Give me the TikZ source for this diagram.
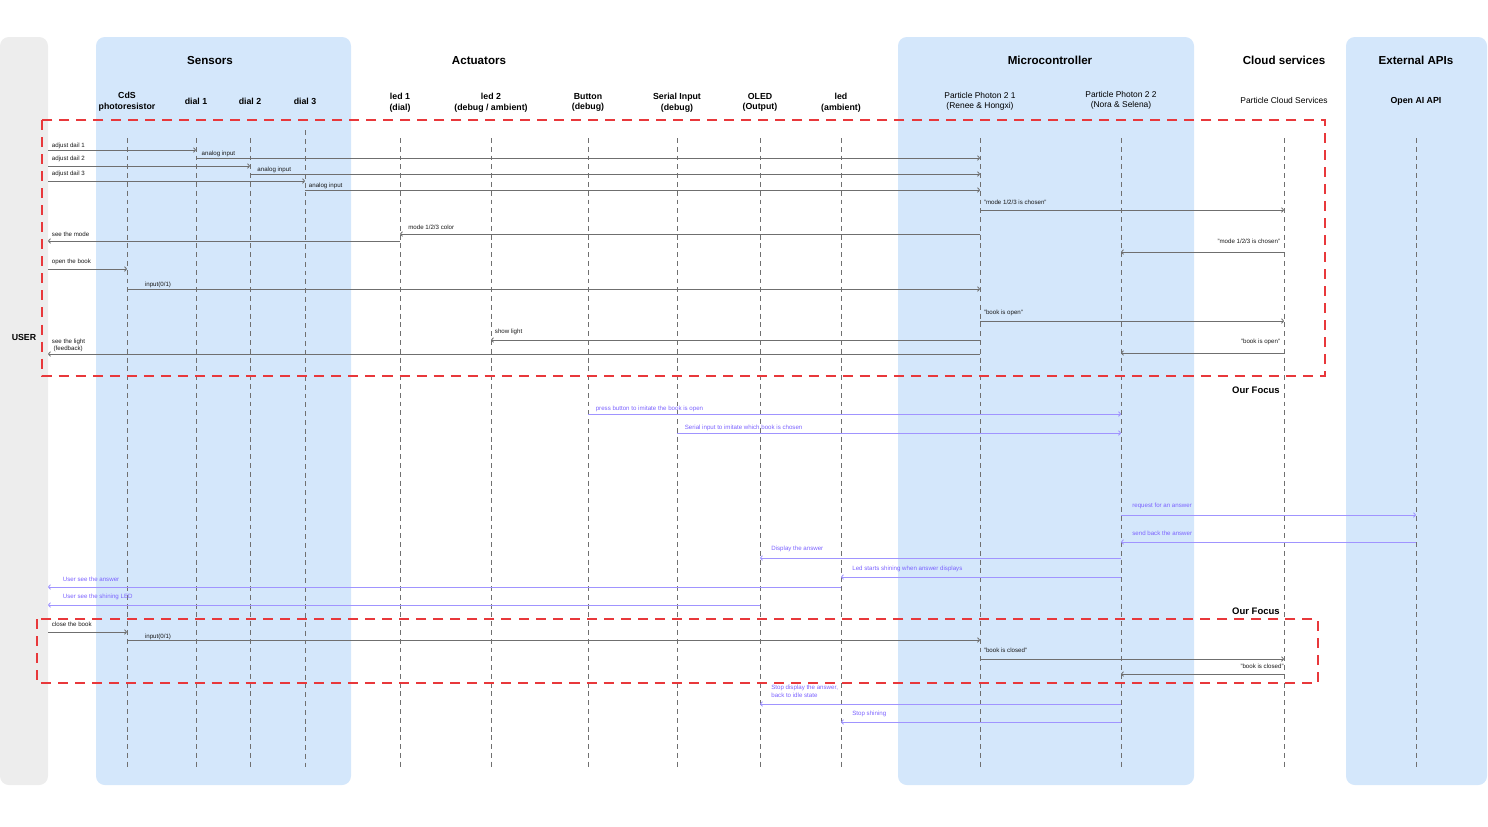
\documentclass[tikz,border=0pt]{standalone}
\usepackage{fontspec}
\setmainfont{Liberation Sans}
\usetikzlibrary{arrows.meta}
\definecolor{panelblue}{HTML}{D4E7FB}
\definecolor{panelgray}{HTML}{EDEDED}
\definecolor{focusred}{HTML}{E8383B}
\definecolor{lifegray}{HTML}{707070}
\definecolor{msggray}{HTML}{6F6F6F}
\definecolor{msgpurple}{HTML}{A094FF}
\definecolor{txtpurple}{HTML}{7B62FF}
\tikzset{
  head/.style={font=\fontsize{6.6}{7.5}\selectfont\bfseries},
  col/.style={font=\fontsize{5}{6}\selectfont\bfseries, align=center},
  colm/.style={font=\fontsize{4.8}{6}\selectfont, align=center},
  life/.style={draw=lifegray, line width=0.45pt, dash pattern=on 2.8pt off 2.2pt},
  focus/.style={draw=focusred, line width=1.4pt, dash pattern=on 5.7pt off 4pt},
  msg/.style={draw=msggray, line width=0.5pt, -{To[length=1.6pt,width=3pt]}},
  msgp/.style={msg, draw=msgpurple},
  lbl/.style={anchor=south west, font=\fontsize{3.5}{4.2}\selectfont, align=left, inner sep=0pt, xshift=2pt, yshift=0.5pt, text=black!90},
  lblr/.style={lbl, anchor=south east, xshift=-4pt},
  lblp/.style={lbl, xshift=4.2pt, text=txtpurple}
}
\begin{document}
\begin{tikzpicture}[x=0.02cm, y=-0.02cm]
\useasboundingbox (0,0) rectangle (1488,826);
% panels
\fill[panelgray, rounded corners=5pt] (0,37) rectangle (48,785);
\fill[panelblue, rounded corners=5pt] (96,37) rectangle (351,785);
\fill[panelblue, rounded corners=5pt] (898,37) rectangle (1194,785);
\fill[panelblue, rounded corners=5pt] (1346,37) rectangle (1487,785);
% group titles
\node[head] (userH) at (24,337) {\fontsize{5}{6}\selectfont USER};
\node[head] (sensH) at (210,60.5) {Sensors};
\node[head] (actH) at (479,60.5) {Actuators};
\node[head] (mcuH) at (1050,60.5) {Microcontroller};
\node[head] (cloudH) at (1284,60.5) {Cloud services};
\node[head] (apiH) at (1416,60.5) {External APIs};
% participants
\node[col] (cdsL) at (127,101.5) {CdS\\photoresistor};
\node[col] (dialAL) at (196,101.5) {dial 1};
\node[col] (dialBL) at (250,101.5) {dial 2};
\node[col] (dialCL) at (305,101.5) {dial 3};
\node[col] (ledAL) at (400,102.5) {led 1\\(dial)};
\node[col] (ledBL) at (491,102.5) {led 2\\(debug / ambient)};
\node[col] (btnL) at (588,102.5) {Button\\(debug)};
\node[col] (serialL) at (677,102.5) {Serial Input\\(debug)};
\node[col] (oledL) at (760,102.5) {OLED\\(Output)};
\node[col] (ledCL) at (841,102.5) {led\\(ambient)};
\node[colm] (ppAL) at (980,101.5) {Particle Photon 2 1\\(Renee \& Hongxi)};
\node[colm] (ppBL) at (1121,100.5) {Particle Photon 2 2\\(Nora \& Selena)};
\node[colm] (cloudL) at (1284,100.5) {Particle Cloud Services};
\node[col] (openaiL) at (1416,101.5) {Open AI API};
% lifelines
\coordinate (user) at (48,138);
\coordinate (cds) at (127,138);
\coordinate (dialA) at (196,138);
\coordinate (dialB) at (250,138);
\coordinate (dialC) at (305,130);
\coordinate (ledA) at (400,138);
\coordinate (ledB) at (491,138);
\coordinate (btn) at (588,138);
\coordinate (serial) at (677,138);
\coordinate (oled) at (760,138);
\coordinate (ledC) at (841,138);
\coordinate (ppA) at (980,138);
\coordinate (ppB) at (1121,138);
\coordinate (cloud) at (1284,138);
\coordinate (openai) at (1416,138);
\draw[life] (cds) -- (cds |- 0,768);
\draw[life] (dialA) -- (dialA |- 0,768);
\draw[life] (dialB) -- (dialB |- 0,768);
\draw[life] (dialC) -- (dialC |- 0,768);
\draw[life] (ledA) -- (ledA |- 0,768);
\draw[life] (ledB) -- (ledB |- 0,768);
\draw[life] (btn) -- (btn |- 0,768);
\draw[life] (serial) -- (serial |- 0,768);
\draw[life] (oled) -- (oled |- 0,768);
\draw[life] (ledC) -- (ledC |- 0,768);
\draw[life] (ppA) -- (ppA |- 0,768);
\draw[life] (ppB) -- (ppB |- 0,768);
\draw[life] (cloud) -- (cloud |- 0,768);
\draw[life] (openai) -- (openai |- 0,768);
% focus boxes
\draw[focus] (42,120) rectangle (1325,376);
\draw[focus] (37,619) rectangle (1318,683);
\node[head, anchor=east, inner sep=0pt, font=\fontsize{5.4}{6}\selectfont\bfseries] (focusA) at (1280,390) {Our Focus};
\node[head, anchor=east, inner sep=0pt, font=\fontsize{5.4}{6}\selectfont\bfseries] (focusB) at (1280,611) {Our Focus};
% book open, mode choice
\draw[msg] (user |- 0,150) node[lbl]{adjust dail 1} -- (dialA |- 0,150);
\draw[msg] (dialA |- 0,158) node[lbl, xshift=1pt]{analog input} -- (ppA |- 0,158);
\draw[msg] (user |- 0,166) node[lbl, yshift=1.5pt]{adjust dail 2} -- (dialB |- 0,166);
\draw[msg] (dialB |- 0,174) node[lbl, xshift=2pt]{analog input} -- (ppA |- 0,174);
\draw[msg] (user |- 0,181) node[lbl, yshift=1.5pt]{adjust dail 3} -- (dialC |- 0,181);
\draw[msg] (dialC |- 0,190) node[lbl]{analog input} -- (ppA |- 0,190);
\draw[msg] (ppA |- 0,210) node[lbl, yshift=2.5pt]{"mode 1/2/3 is chosen"} -- (cloud |- 0,210);
\draw[msg] (ppA |- 0,234) -- (ledA |- 0,234) node[lbl, xshift=2.5pt, yshift=2pt]{mode 1/2/3 color};
\draw[msg] (ledA |- 0,241) -- (user |- 0,241) node[lbl, yshift=2pt]{see the mode};
\draw[msg] (cloud |- 0,252) node[lblr, yshift=4pt]{"mode 1/2/3 is chosen"} -- (ppB |- 0,252);
\draw[msg] (user |- 0,269) node[lbl, yshift=1.5pt]{open the book} -- (cds |- 0,269);
\draw[msg] (cds |- 0,289) node[lbl, xshift=8pt]{input(0/1)} -- (ppA |- 0,289);
\draw[msg] (ppA |- 0,321) node[lbl, yshift=2pt]{"book is open"} -- (cloud |- 0,321);
\draw[msg] (ppA |- 0,340) -- (ledB |- 0,340) node[lbl, yshift=2pt]{show light};
\draw[msg] (cloud |- 0,353) node[lblr, yshift=4pt]{"book is open"} -- (ppB |- 0,353);
\draw[msg] (ppA |- 0,354) -- (user |- 0,354) node[lbl, yshift=0.5pt]{see the light\\\ (feedback)};
% debug inputs and answer (purple)
\draw[msgp] (btn |- 0,414) node[lblp, xshift=-2pt, yshift=0.8pt]{press button to imitate the book is open} -- (ppB |- 0,414);
\draw[msgp] (serial |- 0,433) node[lblp, xshift=-2pt, yshift=0.8pt]{Serial input to imitate which book is chosen} -- (ppB |- 0,433);
\draw[msgp] (ppB |- 0,515) node[lblp, yshift=3pt]{request for an answer} -- (openai |- 0,515);
\draw[msgp] (openai |- 0,542) -- (ppB |- 0,542) node[lblp, yshift=3pt]{send back the answer};
\draw[msgp] (ppB |- 0,558) -- (oled |- 0,558) node[lblp, yshift=3pt]{Display the answer};
\draw[msgp] (ppB |- 0,577) -- (ledC |- 0,577) node[lblp, yshift=2pt]{Led starts shining when answer displays};
\draw[msgp] (ledC |- 0,587) -- (user |- 0,587) node[lblp, xshift=2pt, yshift=2.5pt]{User see the answer};
\draw[msgp] (oled |- 0,605) -- (user |- 0,605) node[lblp, xshift=2pt, yshift=2.5pt]{User see the shining LED};
% book closed
\draw[msg] (user |- 0,632) node[lbl, yshift=2.5pt]{close the book} -- (cds |- 0,632);
\draw[msg] (cds |- 0,640) node[lbl, xshift=8pt, yshift=-0.8pt]{input(0/1)} -- (ppA |- 0,640);
\draw[msg] (ppA |- 0,659) node[lbl, yshift=3pt]{"book is closed"} -- (cloud |- 0,659);
\draw[msg] (cloud |- 0,674) node[lblr, yshift=2.5pt, xshift=2pt]{"book is closed"} -- (ppB |- 0,674);
% back to idle (purple)
\draw[msgp] (ppB |- 0,704) -- (oled |- 0,704) node[lblp, yshift=3pt]{Stop display the answer,\\back to idle state};
\draw[msgp] (ppB |- 0,722) -- (ledC |- 0,722) node[lblp, yshift=2pt]{Stop shining};
\end{tikzpicture}
\end{document}
